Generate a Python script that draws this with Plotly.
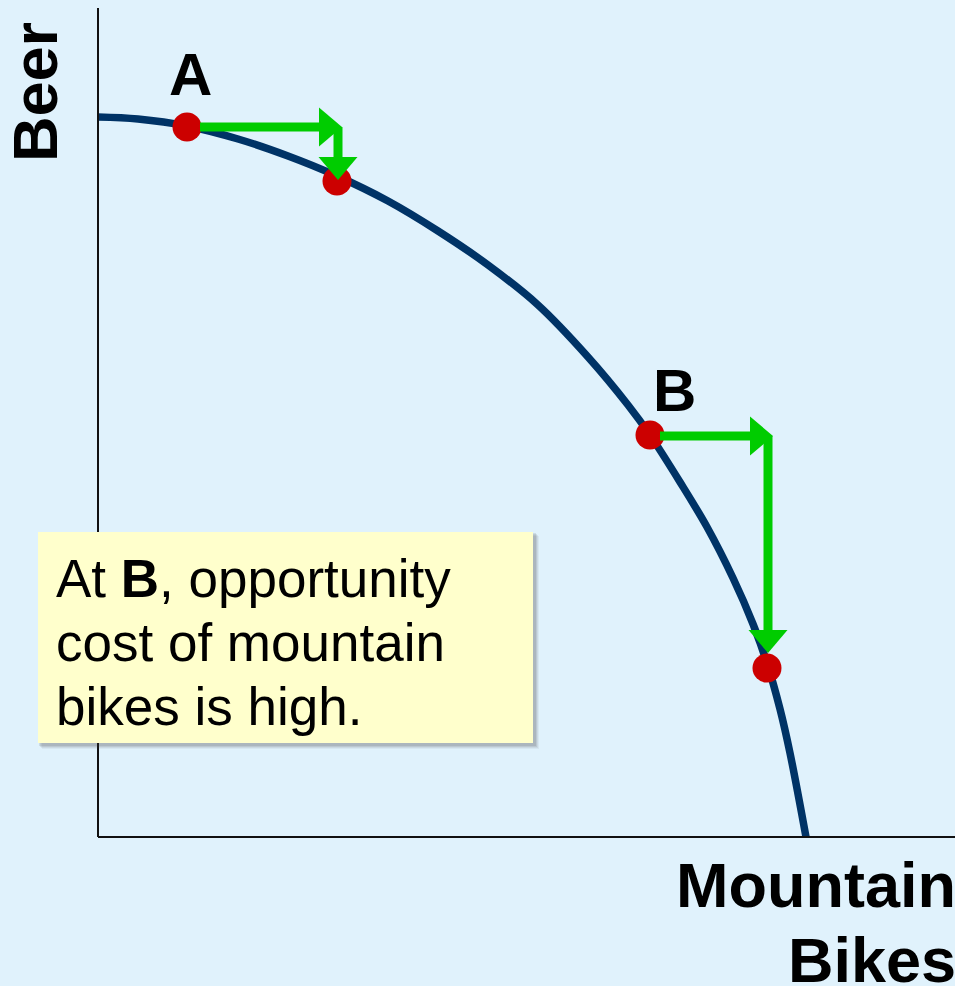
import plotly.graph_objects as go

# ---- data (origin at the axes corner; units ~ chart pixels) ----
curve_x = [0, 40, 89, 140, 190, 239, 290, 340, 390, 440, 490, 530, 552, 582, 609, 635, 655, 669, 682, 692, 708]
curve_y = [720, 718, 711, 698, 681, 661, 636, 606, 572, 532, 480, 432, 402, 355, 310, 259, 213, 174, 128, 84, 0]

point_x = [89, 239, 552, 669]
point_y = [710, 656, 402, 169]

# arrows: tail -> tip
arrow_tail_x = [89, 240, 552, 670]
arrow_tail_y = [710, 710, 401, 401]
arrow_tip_x = [244, 240, 675, 670]
arrow_tip_y = [710, 657, 401, 184]
arrow_startoff = [13, 0, 10, 0]

x_axis_max = 857
y_axis_max = 829

note_lines = ["At <b>B</b>, opportunity", "cost of mountain", "bikes is high."]

BG = "#E0F2FC"
GREEN = "#00CC00"
FONT = "Liberation Sans, Arial, sans-serif"
W, H = 955, 986
X0, Y0 = 98, 837  # pixel position of origin
HEAD_LEN, HEAD_HALF = 23, 19.5


def px(xp):
    return xp / W


def py(yp):
    return 1 - yp / H


fig = go.Figure()

fig.add_trace(go.Scatter(x=curve_x, y=curve_y, mode="lines",
                         line=dict(color="#003366", width=7.5, shape="spline", smoothing=1.0),
                         hoverinfo="skip"))
fig.add_trace(go.Scatter(x=point_x, y=point_y, mode="markers",
                         marker=dict(color="#CC0000", size=29, line=dict(width=0)),
                         hoverinfo="skip"))

# green arrows (shaft + filled head), geometry derived from the arrow arrays
for tx, ty, hx, hy, so in zip(arrow_tail_x, arrow_tail_y, arrow_tip_x, arrow_tip_y, arrow_startoff):
    dx, dy = hx - tx, hy - ty
    n = (dx * dx + dy * dy) ** 0.5
    ux, uy = dx / n, dy / n
    vx, vy = -uy, ux
    bx, by = hx - HEAD_LEN * ux, hy - HEAD_LEN * uy
    fig.add_trace(go.Scatter(x=[tx + so * ux, bx + 2 * ux], y=[ty + so * uy, by + 2 * uy], mode="lines",
                             line=dict(color=GREEN, width=9), hoverinfo="skip"))
    fig.add_trace(go.Scatter(x=[hx, bx + HEAD_HALF * vx, bx - HEAD_HALF * vx, hx],
                             y=[hy, by + HEAD_HALF * vy, by - HEAD_HALF * vy, hy],
                             mode="lines", fill="toself", fillcolor=GREEN,
                             line=dict(color=GREEN, width=0), hoverinfo="skip"))

shapes = [
    dict(type="line", xref="x", yref="y", x0=0, y0=0, x1=x_axis_max, y1=0,
         line=dict(color="#111111", width=2)),
    dict(type="line", xref="x", yref="y", x0=0, y0=0, x1=0, y1=y_axis_max,
         line=dict(color="#111111", width=2)),
]
# text box with soft shadow
box = dict(x0=38 - X0, x1=533 - X0, y0=Y0 - 743, y1=Y0 - 532)
for off, op in [(6, 0.06), (5, 0.08), (4, 0.10), (3, 0.12)]:
    shapes.append(dict(type="rect", xref="x", yref="y",
                       x0=box["x0"] + off - 2, x1=box["x1"] + off, y0=box["y0"] - off, y1=box["y1"] - off + 2,
                       fillcolor="rgba(60,60,60,%.2f)" % op, line=dict(width=0), layer="above"))
shapes.append(dict(type="rect", xref="x", yref="y", **box,
                   fillcolor="#FFFFCC", line=dict(width=0), layer="above"))

annotations = [
    dict(text="<b>Beer</b>", x=px(35), y=py(92), xref="paper", yref="paper", textangle=-90,
         showarrow=False, font=dict(family=FONT, size=63, color="black"),
         xanchor="center", yanchor="middle"),
    dict(text="<b>A</b>", x=px(190), y=py(74), xref="paper", yref="paper",
         showarrow=False, font=dict(family=FONT, size=60, color="black"),
         xanchor="center", yanchor="middle"),
    dict(text="<b>B</b>", x=px(674), y=py(390), xref="paper", yref="paper",
         showarrow=False, font=dict(family=FONT, size=60, color="black"),
         xanchor="center", yanchor="middle"),
    dict(text="<b>Mountain</b>", x=px(958), y=py(885), xref="paper", yref="paper",
         showarrow=False, font=dict(family=FONT, size=63, color="black"),
         xanchor="right", yanchor="middle"),
    dict(text="<b>Bikes</b>", x=px(958), y=py(960), xref="paper", yref="paper",
         showarrow=False, font=dict(family=FONT, size=63, color="black"),
         xanchor="right", yanchor="middle"),
]
for i, line in enumerate(note_lines):
    annotations.append(dict(text=line, x=px(54), y=py(578 + 64 * i), xref="paper", yref="paper",
                            align="left", showarrow=False,
                            font=dict(family=FONT, size=53, color="black"),
                            xanchor="left", yanchor="middle"))

fig.update_layout(
    width=W, height=H, margin=dict(l=0, r=0, t=0, b=0),
    paper_bgcolor=BG, plot_bgcolor=BG, showlegend=False,
    xaxis=dict(range=[-X0, W - X0], visible=False, fixedrange=True),
    yaxis=dict(range=[Y0 - H, Y0], visible=False, fixedrange=True),
    shapes=shapes, annotations=annotations,
)

fig.write_html("out.html", config={"displayModeBar": False},
               post_script="document.body.style.margin='0';document.body.style.overflow='hidden';")
